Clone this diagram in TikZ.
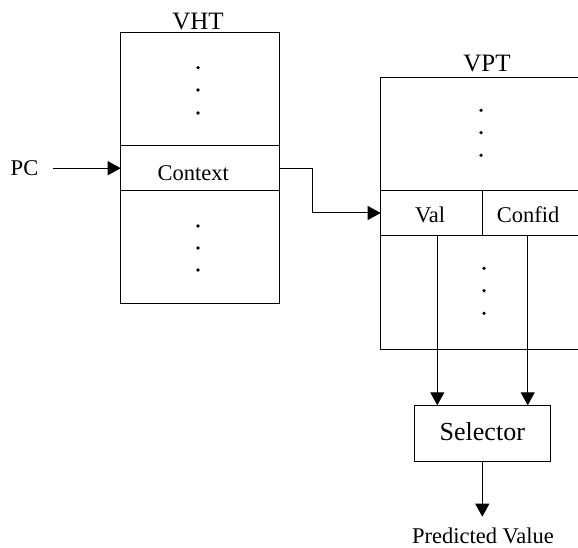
\documentclass[tikz,border=0pt]{standalone}
\usepackage{fontspec}
\setmainfont{Liberation Serif}
\usetikzlibrary{arrows.meta,calc}

\tikzset{
  cell/.style={draw, rectangle, inner sep=0pt, outer sep=0pt, line width=1pt},
  lbl/.style={inner sep=0pt, font=\fontsize{22.5}{26}\selectfont},
  title/.style={inner sep=0pt, font=\fontsize{25}{29}\selectfont},
  arr/.style={line width=1pt, -{Triangle[length=13pt,width=14pt]}},
  dot/.style={fill=black}
}

\begin{document}
\begin{tikzpicture}[x=1pt, y=-1pt]
\useasboundingbox (0,0) rectangle (578,548);
\clip (0,0) rectangle (578,548);

% Value history table
\node[cell, minimum width=158.3pt, minimum height=113.4pt] (vhttop) at (199.85,89) {};
\node[cell, minimum width=158.3pt, minimum height=45pt]    (ctx)    at (199.85,168.2) {};
\node[cell, minimum width=158.3pt, minimum height=112.6pt] (vhtbot) at (199.85,247) {};
\node[title] (vht) at (198,21.7) {VHT};
\node[lbl] (ctxtext) at ([xshift=-6.5pt,yshift=-4.5pt]ctx.center) {Context};
\foreach \y in {67.7,90,113,226,248,270} \fill[dot] (198,\y) circle (1.8);

% Value prediction table (runs off the right edge)
\node[cell, minimum width=239.3pt, minimum height=112.6pt] (vpttop) at (500.35,134) {};
\node[cell, minimum width=101.6pt, minimum height=45.4pt]  (val)    at (431.5,213) {};
\node[cell, minimum width=137.7pt, minimum height=45.4pt]  (confid) at (551.15,213) {};
\node[cell, minimum width=239.3pt, minimum height=113.3pt] (vptbot) at (500.35,292.35) {};
\node[title] (vpt) at (487,63.3) {VPT};
\node[lbl] (valtext) at (430,215) {Val};
\node[lbl] (confidtext) at (528,215) {Confid};
\foreach \y in {110.3,132.7,155.3} \fill[dot] (481,\y) circle (1.8);
\foreach \y in {268.3,290.7,313.3} \fill[dot] (484,\y) circle (1.8);

% Selector
\node[cell, minimum width=136pt, minimum height=56.4pt] (sel) at (482.3,433.5) {};
\node[inner sep=0pt, font=\fontsize{26}{30}\selectfont] (seltext) at (482.3,431.7) {Selector};
\node[lbl] (pred) at (483,536) {Predicted Value};

% Input
\node[lbl] (pc) at (24.5,168.3) {PC};
\coordinate (pcstart) at (52.7,168.2);
\draw[arr] (pcstart) -- (ctx.west);

% Context to VPT
\draw[arr] (ctx.east) -- ++(33.7,0) |- (val.west);

% Table outputs into the selector
\draw[arr] ([xshift=5.8pt]val.south) -- ([xshift=5.8pt]val.south |- sel.north);
\draw[arr] ([xshift=45.4pt]confid.south west) -- ([xshift=45.4pt]confid.south west |- sel.north);

% Prediction out
\coordinate (predtip) at (482.3,516.7);
\draw[arr] (sel.south) -- (predtip);
\end{tikzpicture}
\end{document}
